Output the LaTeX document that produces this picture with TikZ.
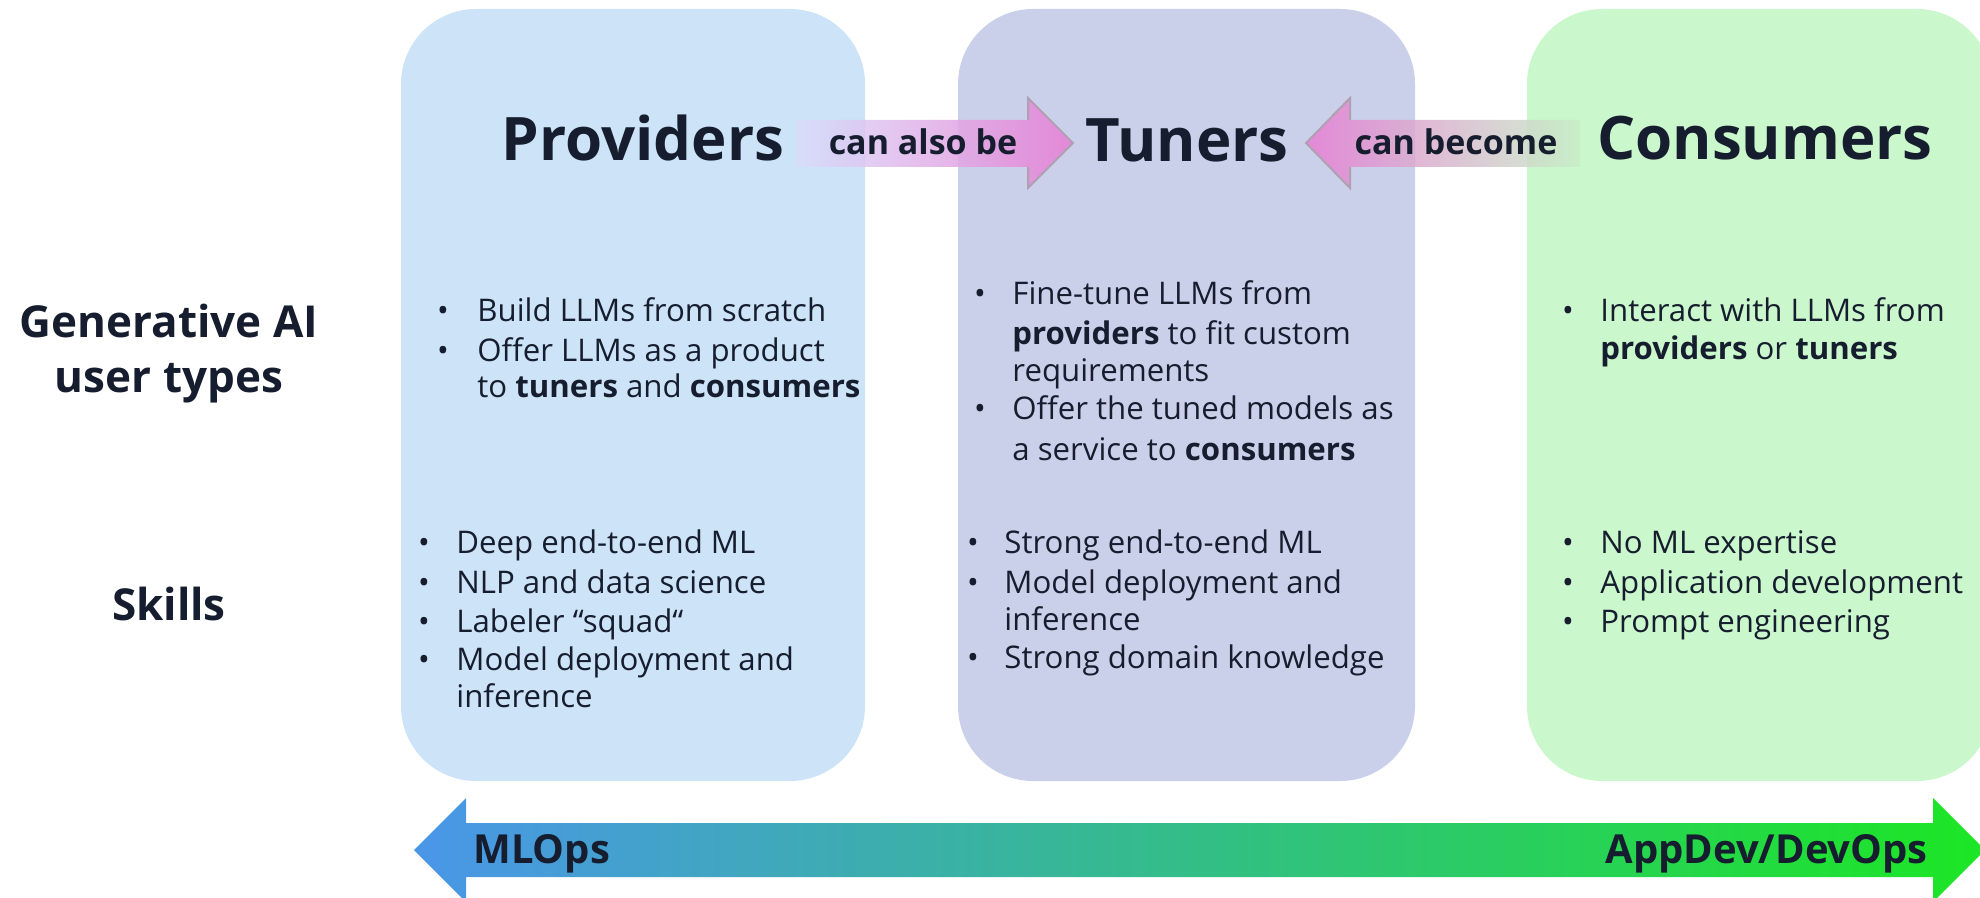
\documentclass[tikz,border=0pt]{standalone}
\usepackage{fontspec}
\setmainfont{Open Sans}

\definecolor{inkdark}{RGB}{22,29,46}
\definecolor{provfill}{RGB}{204,227,248}
\definecolor{tunefill}{RGB}{203,208,234}
\definecolor{consfill}{RGB}{203,247,204}
\definecolor{pinkhead}{RGB}{232,125,212}
\definecolor{paleband}{RGB}{218,222,250}
\definecolor{greyband}{RGB}{200,238,200}
\definecolor{edgegrey}{RGB}{175,160,178}
\definecolor{opsblue}{RGB}{74,150,232}
\definecolor{opsteal}{RGB}{58,200,200}
\definecolor{opsgreen}{RGB}{28,230,36}

\begin{document}
\begin{tikzpicture}[x=0.5pt,y=-0.5pt,
  column/.style={rounded corners=37.5pt},
  heading/.style={inner sep=0pt,text=inkdark,font=\fontsize{30}{36}\selectfont\bfseries,anchor=base},
  rowlabel/.style={inner sep=0pt,text=inkdark,font=\fontsize{22}{27}\selectfont\bfseries,anchor=base},
  linktext/.style={inner sep=0pt,text=inkdark,font=\fontsize{17}{20}\selectfont\bfseries,anchor=base},
  axistext/.style={inner sep=0pt,text=inkdark,font=\fontsize{20}{24}\selectfont\bfseries},
  bodytxt/.style={inner sep=0pt,text=inkdark,font=\fontsize{15.6}{19}\selectfont,anchor=base west},
  bul/.style={inner sep=0pt,text=inkdark,font=\fontsize{15.6}{19}\selectfont,anchor=base},
  headedge/.style={draw=edgegrey,line width=1,line join=miter}
]
\useasboundingbox (0,0) rectangle (1980,898);
\clip (0,0) rectangle (1980,898);

% three role columns
\fill[provfill,column] (401,9) rectangle (865,781);
\fill[tunefill,column] (958,9) rectangle (1415,781);
\fill[consfill,column] (1527,9) rectangle (1992,781);

% "can also be" arrow towards the tuners
\path[left color=paleband,right color=pinkhead,fill opacity=0.85]
  (796,120) -- (1028,120) -- (1028,98) -- (1073,143) -- (1028,188) -- (1028,167) -- (796,167) -- cycle;
\draw[headedge] (1028,120) -- (1028,98) -- (1073,143) -- (1028,188) -- (1028,167);

% "can become" arrow towards the tuners
\path[left color=pinkhead,right color=greyband,fill opacity=0.85]
  (1580,120) -- (1350,120) -- (1350,98) -- (1306,143) -- (1350,188) -- (1350,167) -- (1580,167) -- cycle;
\draw[headedge] (1350,120) -- (1350,98) -- (1306,143) -- (1350,188) -- (1350,167);

% headings
\node[heading] (prov) at (643,161) {Providers};
\node[heading] (tune) at (1187,162) {Tuners};
\node[heading] (cons) at (1765,160) {Consumers};
\node[linktext] (alsobe) at (923,155) {can also be};
\node[linktext] (become) at (1456,155) {can become};

% row labels
\node[rowlabel] (gen1) at (169,338) {Generative AI};
\node[rowlabel] (gen2) at (169,393) {user types};
\node[rowlabel] (skills) at (169,620) {Skills};

% providers: user type
\node[bul] (pb1) at (443,322) {•};
\node[bodytxt] (pt1) at (477,322) {Build LLMs from scratch};
\node[bul] (pb2) at (443,362) {•};
\node[bodytxt] (pt2) at (477,362) {Offer LLMs as a product};
\node[bodytxt] (pt3) at (477,398) {to \textbf{tuners} and \textbf{consumers}};

% providers: skills
\node[bul] (ps1b) at (424,553) {•};
\node[bodytxt] (ps1) at (456,553) {Deep end-to-end ML};
\node[bul] (ps2b) at (424,593) {•};
\node[bodytxt] (ps2) at (456,593) {NLP and data science};
\node[bul] (ps3b) at (424,632) {•};
\node[bodytxt] (ps3) at (456,632) {Labeler “squad“};
\node[bul] (ps4b) at (424,670) {•};
\node[bodytxt] (ps4) at (456,670) {Model deployment and};
\node[bodytxt] (ps5) at (456,707) {inference};

% tuners: user type
\node[bul] (tb1) at (980,305) {•};
\node[bodytxt] (tt1) at (1012,305) {Fine-tune LLMs from};
\node[bodytxt] (tt2) at (1012,345) {\textbf{providers} to fit custom};
\node[bodytxt] (tt3) at (1012,382) {requirements};
\node[bul] (tb2) at (980,420) {•};
\node[bodytxt] (tt4) at (1012,420) {Offer the tuned models as};
\node[bodytxt] (tt5) at (1012,460) {a service to \textbf{consumers}};

% tuners: skills
\node[bul] (ts1b) at (973,553) {•};
\node[bodytxt] (ts1) at (1004,553) {Strong end-to-end ML};
\node[bul] (ts2b) at (973,593) {•};
\node[bodytxt] (ts2) at (1004,593) {Model deployment and};
\node[bodytxt] (ts3) at (1004,630) {inference};
\node[bul] (ts4b) at (973,668) {•};
\node[bodytxt] (ts4) at (1004,668) {Strong domain knowledge};

% consumers: user type
\node[bul] (cb1) at (1568,322) {•};
\node[bodytxt] (ct1) at (1600,322) {Interact with LLMs from};
\node[bodytxt] (ct2) at (1600,360) {\textbf{providers} or \textbf{tuners}};

% consumers: skills
\node[bul] (cs1b) at (1568,553) {•};
\node[bodytxt] (cs1) at (1600,553) {No ML expertise};
\node[bul] (cs2b) at (1568,593) {•};
\node[bodytxt] (cs2) at (1600,593) {Application development};
\node[bul] (cs3b) at (1568,632) {•};
\node[bodytxt] (cs3) at (1600,632) {Prompt engineering};

% MLOps to AppDev/DevOps spectrum
\path[left color=opsblue,middle color=opsteal,right color=opsgreen]
  (466,823) -- (1933,823) -- (1933,798) -- (1985,850) -- (1933,902) -- (1933,877)
  -- (466,877) -- (466,902) -- (414,850) -- (466,798) -- cycle;
\node[axistext,anchor=base west] (mlops) at (473,863) {MLOps};
\node[axistext,anchor=base east] (devops) at (1928,863) {AppDev/DevOps};
\end{tikzpicture}
\end{document}
